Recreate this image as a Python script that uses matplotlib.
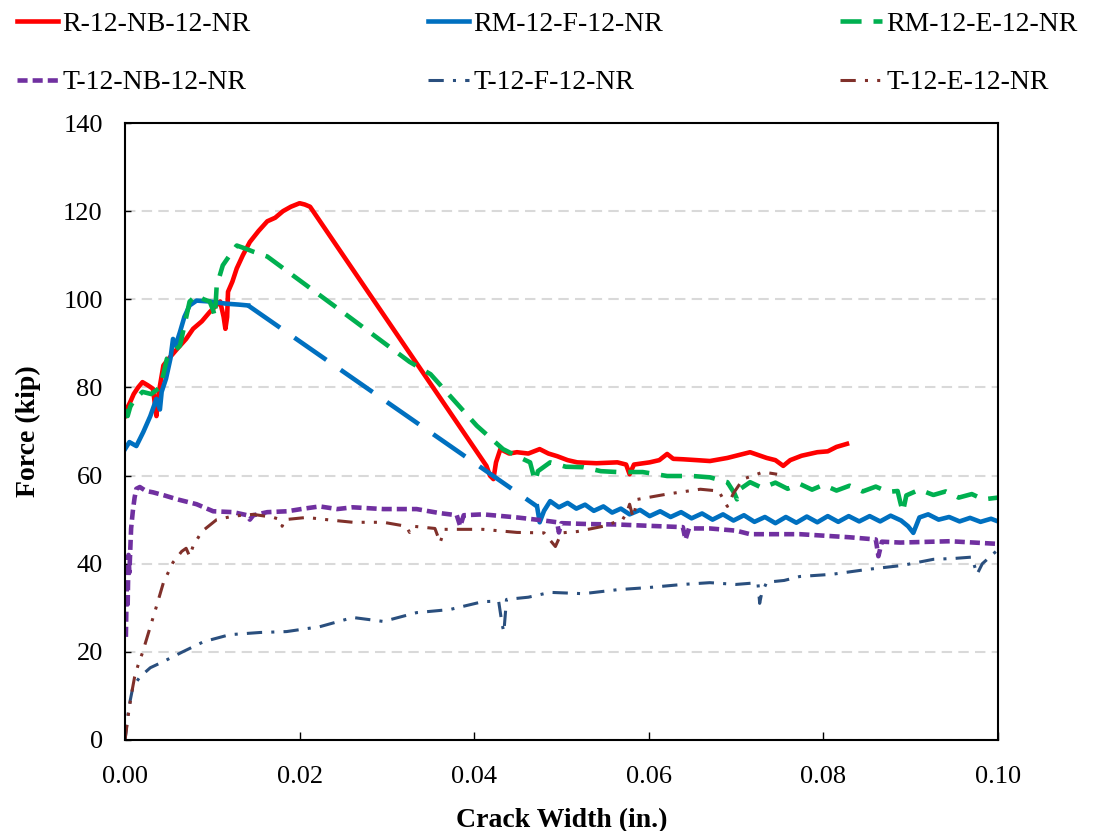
import matplotlib
matplotlib.use("Agg")
import matplotlib.pyplot as plt
from matplotlib.ticker import FormatStrFormatter, MultipleLocator

# crack width (in.) and force (kip) for each specimen
r_nb_x = [0.0000, 0.0003, 0.0006, 0.0010, 0.0015, 0.0020, 0.0026, 0.0032, 0.0036, 0.0038,
          0.0044, 0.0050, 0.0060, 0.0070, 0.0078, 0.0088, 0.0097, 0.0109, 0.0113, 0.0115,
          0.0117, 0.0118, 0.0123, 0.0128, 0.0135, 0.0143, 0.0153, 0.0163, 0.0172, 0.0181,
          0.0190, 0.0200, 0.0206, 0.0212, 0.0414, 0.0418, 0.0422, 0.0425, 0.0430, 0.0440,
          0.0449, 0.0462, 0.0475, 0.0485, 0.0495, 0.0507, 0.0518, 0.0540, 0.0564, 0.0574,
          0.0578, 0.0583, 0.0601, 0.0612, 0.0621, 0.0628, 0.0639, 0.0655, 0.0670, 0.0690,
          0.0716, 0.0735, 0.0745, 0.0754, 0.0762, 0.0775, 0.0793, 0.0805, 0.0815, 0.0827]
r_nb_f = [73.5, 75.5, 76.7, 78.5, 80.0, 81.2, 80.5, 79.7, 73.5, 78.0,
          85.0, 86.5, 88.8, 91.0, 93.3, 95.0, 97.1, 99.5, 96.0, 93.3,
          96.0, 101.7, 104.0, 107.0, 110.0, 113.0, 115.5, 117.7, 118.5, 120.0,
          121.0, 121.8, 121.5, 121.0, 62.2, 60.0, 59.2, 63.0, 66.0, 65.0,
          65.3, 65.0, 66.0, 65.0, 64.4, 63.5, 63.0, 62.8, 63.0, 62.5,
          60.3, 62.5, 63.0, 63.5, 64.9, 63.8, 63.7, 63.5, 63.3, 64.0,
          65.3, 64.0, 63.5, 62.2, 63.5, 64.5, 65.3, 65.5, 66.5, 67.2]

rm_f_x = [0.0000, 0.0005, 0.0013, 0.0021, 0.0029, 0.0036, 0.0040, 0.0042, 0.0047, 0.0052,
          0.0055, 0.0058, 0.0063, 0.0068, 0.0074, 0.0082, 0.0097, 0.0116, 0.0130, 0.0141]
rm_f_f = [66.0, 67.6, 66.7, 69.9, 73.5, 77.4, 75.0, 79.0, 82.0, 86.5,
          91.0, 89.5, 92.6, 96.0, 98.6, 99.7, 99.5, 99.0, 98.8, 98.6]
# unloading jump between the two recorded parts
rm_f_jump_x = [0.0141, 0.0472]
rm_f_jump_f = [98.6, 53.0]
rm_f_tail_x = [0.0472, 0.0475, 0.0480, 0.0487, 0.0497, 0.0507, 0.0517, 0.0527, 0.0537, 0.0548,
               0.0558, 0.0568, 0.0578, 0.0590, 0.0601, 0.0613, 0.0625, 0.0637, 0.0649, 0.0661,
               0.0673, 0.0685, 0.0697, 0.0709, 0.0721, 0.0733, 0.0745, 0.0757, 0.0769, 0.0781,
               0.0793, 0.0805, 0.0817, 0.0829, 0.0841, 0.0853, 0.0865, 0.0877, 0.0889, 0.0897,
               0.0903, 0.0910, 0.0920, 0.0932, 0.0944, 0.0956, 0.0968, 0.0980, 0.0992, 0.1000]
rm_f_tail_f = [53.0, 49.4, 52.0, 54.2, 52.8, 53.8, 52.5, 53.4, 52.0, 53.0,
               51.6, 52.5, 51.2, 52.2, 50.8, 51.9, 50.6, 51.7, 50.3, 51.4,
               50.0, 51.2, 49.8, 51.0, 49.5, 50.6, 49.2, 50.6, 49.3, 50.7,
               49.4, 50.8, 49.5, 50.8, 49.6, 50.8, 49.6, 50.9, 49.8, 48.5,
               47.0, 50.5, 51.2, 50.0, 50.6, 49.6, 50.4, 49.5, 50.2, 49.6]

rm_e_x = [0.0000, 0.0003, 0.0006, 0.0010, 0.0015, 0.0020, 0.0030, 0.0040, 0.0044, 0.0048,
          0.0055, 0.0063, 0.0068, 0.0074, 0.0082, 0.0090, 0.0097, 0.0101, 0.0103, 0.0105,
          0.0112, 0.0120, 0.0128, 0.0138, 0.0147, 0.0163, 0.0250, 0.0326, 0.0350, 0.0403,
          0.0433, 0.0449, 0.0464, 0.0468, 0.0470, 0.0473, 0.0487, 0.0505, 0.0525, 0.0545,
          0.0564, 0.0593, 0.0621, 0.0650, 0.0670, 0.0690, 0.0698, 0.0701, 0.0705, 0.0716,
          0.0730, 0.0745, 0.0759, 0.0773, 0.0787, 0.0800, 0.0815, 0.0830, 0.0845, 0.0860,
          0.0874, 0.0885, 0.0888, 0.0891, 0.0895, 0.0910, 0.0926, 0.0940, 0.0955, 0.0970,
          0.0983, 0.1000]
rm_e_f = [75.0, 73.5, 75.6, 77.0, 78.0, 79.0, 78.5, 80.0, 83.0, 86.5,
          88.0, 89.5, 94.0, 99.5, 100.9, 100.0, 99.5, 97.5, 96.0, 103.0,
          107.7, 110.0, 112.2, 111.5, 110.8, 109.7, 97.0, 85.8, 83.0, 71.3,
          66.0, 64.4, 63.0, 60.0, 58.7, 61.0, 63.0, 62.0, 61.9, 61.0,
          60.8, 60.8, 59.9, 59.9, 59.6, 58.5, 56.0, 54.6, 57.0, 58.5,
          57.2, 58.4, 57.0, 58.1, 56.8, 57.9, 56.6, 57.7, 56.4, 57.5,
          56.3, 56.5, 54.0, 51.7, 55.5, 56.8, 55.6, 56.4, 55.0, 55.8,
          54.6, 55.0]

t_nb_x = [0.0001, 0.0002, 0.0003, 0.0004, 0.0005, 0.0007, 0.0009, 0.0011, 0.0013, 0.0017,
          0.0024, 0.0032, 0.0045, 0.0060, 0.0082, 0.0101, 0.0124, 0.0140, 0.0143, 0.0147,
          0.0163, 0.0186, 0.0205, 0.0223, 0.0243, 0.0261, 0.0296, 0.0334, 0.0360, 0.0380,
          0.0384, 0.0388, 0.0410, 0.0449, 0.0480, 0.0495, 0.0497, 0.0500, 0.0530, 0.0564,
          0.0600, 0.0639, 0.0642, 0.0646, 0.0670, 0.0700, 0.0716, 0.0773, 0.0830, 0.0860,
          0.0863, 0.0867, 0.0888, 0.0945, 0.1000]
t_nb_f = [23.4, 35.0, 30.0, 42.0, 38.0, 48.0, 52.0, 55.0, 57.0, 57.4,
          56.5, 56.2, 55.5, 54.6, 53.5, 51.9, 51.7, 51.0, 50.0, 51.0,
          51.7, 51.9, 52.5, 53.0, 52.4, 52.8, 52.4, 52.4, 51.5, 51.0,
          48.5, 51.0, 51.2, 50.5, 49.8, 49.4, 47.1, 49.2, 49.0, 48.9,
          48.6, 48.3, 45.5, 48.0, 48.0, 47.5, 46.7, 46.7, 46.0, 45.5,
          41.7, 45.0, 44.8, 45.1, 44.5]

t_f_x = [0.0000, 0.0001, 0.0003, 0.0006, 0.0009, 0.0017, 0.0029, 0.0044, 0.0066, 0.0090,
         0.0120, 0.0155, 0.0185, 0.0223, 0.0261, 0.0296, 0.0334, 0.0372, 0.0410, 0.0428,
         0.0432, 0.0434, 0.0437, 0.0462, 0.0487, 0.0525, 0.0564, 0.0600, 0.0639, 0.0670,
         0.0700, 0.0725, 0.0727, 0.0729, 0.0735, 0.0755, 0.0773, 0.0810, 0.0850, 0.0890,
         0.0926, 0.0950, 0.0970, 0.0976, 0.0982, 0.1000]
t_f_f = [0.0, 1.6, 5.2, 9.0, 12.0, 14.3, 16.4, 17.8, 20.0, 22.3,
         23.9, 24.4, 24.6, 25.7, 27.8, 26.9, 28.9, 29.6, 31.4, 31.5,
         26.2, 24.5, 31.9, 32.4, 33.5, 33.2, 34.1, 34.6, 35.3, 35.7,
         35.3, 35.7, 31.0, 33.0, 35.8, 36.2, 37.1, 37.6, 38.7, 39.6,
         41.0, 41.2, 41.5, 37.6, 40.0, 43.2]

t_e_x = [0.0000, 0.0002, 0.0004, 0.0007, 0.0011, 0.0015, 0.0020, 0.0027, 0.0036, 0.0044,
         0.0055, 0.0065, 0.0070, 0.0074, 0.0078, 0.0088, 0.0105, 0.0124, 0.0147, 0.0170,
         0.0178, 0.0180, 0.0183, 0.0208, 0.0231, 0.0261, 0.0296, 0.0322, 0.0326, 0.0330,
         0.0355, 0.0361, 0.0366, 0.0410, 0.0449, 0.0480, 0.0493, 0.0500, 0.0518, 0.0548,
         0.0570, 0.0575, 0.0578, 0.0582, 0.0587, 0.0621, 0.0659, 0.0680, 0.0690, 0.0697,
         0.0708, 0.0731, 0.0747]
t_e_f = [0.0, 3.0, 6.0, 10.0, 14.3, 17.0, 19.8, 24.4, 30.3, 35.7,
         40.3, 42.8, 43.5, 41.7, 44.0, 47.3, 50.0, 50.8, 51.2, 50.5,
         50.0, 48.5, 50.0, 50.5, 50.0, 49.4, 49.4, 48.5, 47.1, 48.5,
         48.0, 44.8, 47.8, 47.8, 47.1, 47.0, 43.9, 47.0, 47.3, 48.5,
         50.0, 51.7, 53.5, 50.5, 54.6, 55.8, 56.9, 56.5, 53.0, 56.0,
         59.2, 60.8, 60.3]

plt.rcParams['font.family'] = ['Liberation Serif', 'DejaVu Serif']

fig = plt.figure(figsize=(10.94, 8.31), dpi=100)
ax = fig.add_axes([125 / 1094, 1 - 740 / 831, 873 / 1094, 617 / 831])

red, blue, green = '#FF0000', '#0070C0', '#00B050'
purple, navy, brown = '#7030A0', '#2A4F7E', '#80302A'

h1, = ax.plot(r_nb_x, r_nb_f, color=red, lw=3.3, label='R-12-NB-12-NR')
h2, = ax.plot(rm_f_x, rm_f_f, color=blue, lw=3.3, label='RM-12-F-12-NR')
ax.plot(rm_f_jump_x, rm_f_jump_f, color=blue, lw=3.3, ls=(0, (8.5, 3.8)))
ax.plot(rm_f_tail_x, rm_f_tail_f, color=blue, lw=3.3)
h3, = ax.plot(rm_e_x, rm_e_f, color=green, lw=3.3, ls=(0, (4.6, 2.6)), label='RM-12-E-12-NR')
h4, = ax.plot(t_nb_x, t_nb_f, color=purple, lw=3.3, ls=(0, (2.2, 1.1)), label='T-12-NB-12-NR')
h5, = ax.plot(t_f_x, t_f_f, color=navy, lw=2.2, ls=(0, (5, 3, 1, 3)), label='T-12-F-12-NR')
h6, = ax.plot(t_e_x, t_e_f, color=brown, lw=2.2, ls=(0, (5, 3, 1, 3, 1, 3)), label='T-12-E-12-NR')

ax.set_xlim(0, 0.1)
ax.set_ylim(0, 140)
ax.xaxis.set_major_locator(MultipleLocator(0.02))
ax.yaxis.set_major_locator(MultipleLocator(20))
ax.xaxis.set_major_formatter(FormatStrFormatter('%.2f'))
ax.yaxis.grid(True, color='#D9D9D9', lw=1.5, ls=(0, (5, 3)))
ax.set_axisbelow(True)
ax.tick_params(axis='x', direction='in', length=6, width=1, labelsize=19, pad=19)
ax.tick_params(axis='y', direction='in', length=4, width=1, labelsize=19, pad=16)
for s in ax.spines.values():
    s.set_linewidth(1.5)
    s.set_color('black')

ax.set_xlabel('Crack Width (in.)', fontsize=20, fontweight='bold', labelpad=14)
ax.set_ylabel('Force (kip)', fontsize=20, fontweight='bold', labelpad=16)

# column-major fill, so interleave to get the two rows right
fig.legend([h1, h4, h2, h5, h3, h6],
           [h.get_label() for h in (h1, h4, h2, h5, h3, h6)],
           ncol=3, mode='expand', loc='upper left',
           bbox_to_anchor=(0.005, 0.88, 0.99, 0.12),
           frameon=False, fontsize=20, handlelength=1.5, handletextpad=0.15,
           labelspacing=1.2, borderaxespad=0.0)

fig.savefig('out.png', dpi=100)
